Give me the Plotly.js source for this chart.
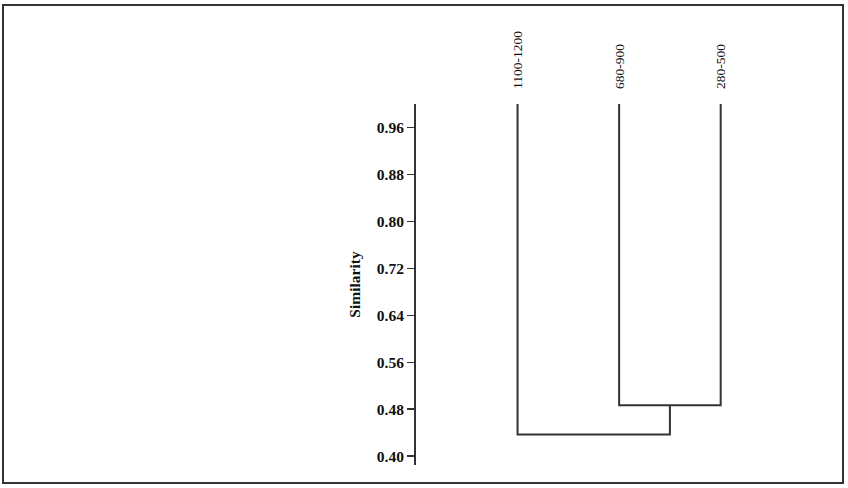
<!DOCTYPE html>
<html>
<head>
<meta charset="utf-8">
<script src="https://cdn.plot.ly/plotly-3.0.1.min.js"></script>
<style>
  html, body { margin: 0; padding: 0; background: #fff; }
  #wrap { position: relative; width: 848px; height: 488px; }
  #chart { width: 848px; height: 488px; }
  #frame { position: absolute; left: 2px; top: 4px; width: 838px; height: 476px;
           border: 2px solid #333; pointer-events: none; }
</style>
</head>
<body>
<div id="wrap"><div id="chart"></div><div id="frame"></div></div>
<script>
// Dendrogram data
const leafLabels = ['1100-1200', '680-900', '280-500'];
const leafPositions = [1, 2, 3];
const leafTop = 1.0;              // similarity where leaves start
const mergeHeights = [0.487, 0.437]; // (680-900 + 280-500), then (+1100-1200)
const yTickVals = [0.40, 0.48, 0.56, 0.64, 0.72, 0.80, 0.88, 0.96];

const lineStyle = { color: '#333', width: 2 };

// Cluster A: leaves 2 and 3 joined at mergeHeights[0]
const xA = leafPositions[1], xB = leafPositions[2];
const midAB = (xA + xB) / 2;
const linkA = {
  x: [xA, xA, xB, xB],
  y: [leafTop, mergeHeights[0], mergeHeights[0], leafTop]
};
// Cluster B: leaf 1 joined with cluster A at mergeHeights[1]
const x1 = leafPositions[0];
const linkB = {
  x: [x1, x1, midAB, midAB],
  y: [leafTop, mergeHeights[1], mergeHeights[1], mergeHeights[0]]
};

const traces = [linkA, linkB].map(l => ({
  type: 'scatter', mode: 'lines', x: l.x, y: l.y,
  line: lineStyle, hoverinfo: 'none', showlegend: false
}));

const serif = 'Liberation Serif, Times New Roman, serif';

const layout = {
  width: 848, height: 488,
  margin: { l: 416, r: 107, t: 104, b: 23 },
  paper_bgcolor: '#fff', plot_bgcolor: '#fff',
  showlegend: false,
  xaxis: {
    range: [0, 3.2], side: 'top',
    tickvals: leafPositions, ticktext: leafLabels,
    tickangle: -90, ticks: '', showline: false, showgrid: false, zeroline: false,
    ticklabelstandoff: 14,
    tickfont: { family: serif, size: 13.5, color: '#111' }
  },
  yaxis: {
    range: [0.385, 1.0],
    tickvals: yTickVals, tickformat: '.2f',
    ticks: 'outside', ticklen: 7, tickwidth: 1.5, tickcolor: '#333',
    showline: true, linewidth: 2, linecolor: '#333',
    showgrid: false, zeroline: false,
    tickfont: { family: serif, size: 15.5, color: '#111', weight: 'bold' },
    title: { text: '<b>Similarity</b>', standoff: 12,
             font: { family: serif, size: 15.5, color: '#111' } }
  }
};

Plotly.newPlot('chart', traces, layout, { staticPlot: true, displayModeBar: false });
</script>
</body>
</html>
